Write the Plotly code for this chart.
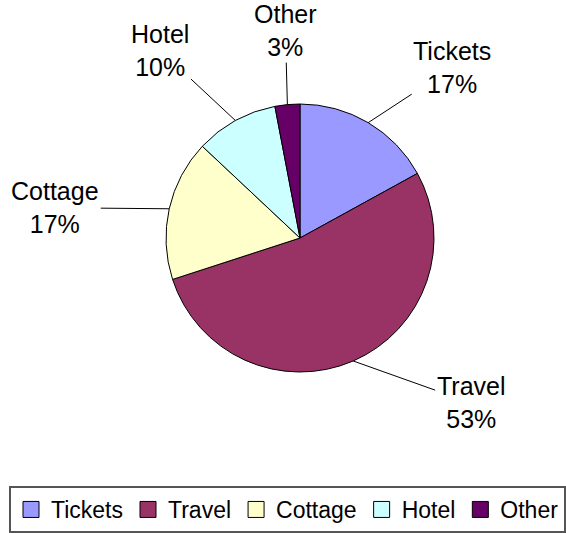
import math
import plotly.graph_objects as go

# chart data
categories = ["Tickets", "Travel", "Cottage", "Hotel", "Other"]
values = [17, 53, 17, 10, 3]
colors = ["#9999FF", "#993366", "#FFFFCC", "#CCFFFF", "#660066"]

W, H = 566, 533
# pie placement (pixels)
CX, CY, R = 300, 238, 134
# label offsets from the slice edge point (pixels, right / down)
label_offsets = [(84, -55), (118, 42), (-114, -1), (-75, -70), (-2, -74)]

font_family = "Arial, Liberation Sans, sans-serif"

fig = go.Figure()

fig.add_trace(go.Pie(
    labels=categories,
    values=values,
    sort=False,
    direction="clockwise",
    rotation=0,
    textinfo="none",
    showlegend=False,
    marker=dict(colors=colors, line=dict(color="black", width=1)),
    domain=dict(x=[(CX - R) / W, (CX + R) / W],
                y=[(H - CY - R) / H, (H - CY + R) / H]),
))

# legend entries as square markers
for name, col in zip(categories, colors):
    fig.add_trace(go.Scatter(
        x=[None], y=[None], mode="markers", name=name,
        marker=dict(symbol="square", size=16, color=col,
                    line=dict(color="black", width=1)),
    ))

# labels with leader lines, placed from each slice's mid angle
total = sum(values)
cum = 0
for name, v, (dx, dy) in zip(categories, values, label_offsets):
    mid = (cum + v / 2) / total * 2 * math.pi
    cum += v
    px = CX + R * math.sin(mid)
    py = CY - R * math.cos(mid)
    pct = round(v / total * 100)
    fig.add_annotation(
        x=px / W, y=1 - py / H, xref="paper", yref="paper",
        text=f"{name}<br>{pct}%",
        showarrow=True, arrowhead=0, arrowwidth=1, arrowcolor="black",
        standoff=0, ax=dx, ay=dy,
        font=dict(family=font_family, size=25, color="black"),
    )

fig.update_xaxes(visible=False)
fig.update_yaxes(visible=False)

fig.update_layout(
    width=W, height=H,
    margin=dict(l=0, r=0, t=0, b=0, autoexpand=False),
    paper_bgcolor="white",
    plot_bgcolor="white",
    legend=dict(
        orientation="h",
        x=1, xanchor="right",
        y=0.0, yanchor="bottom",
        bordercolor="#555555", borderwidth=2,
        font=dict(family=font_family, size=23, color="black"),
        itemwidth=30,
    ),
)

# page body has a default 8px margin; remove it so the figure fills the window
fig.write_html("out.html", config={"displayModeBar": False},
               post_script="document.body.style.margin='0';")
